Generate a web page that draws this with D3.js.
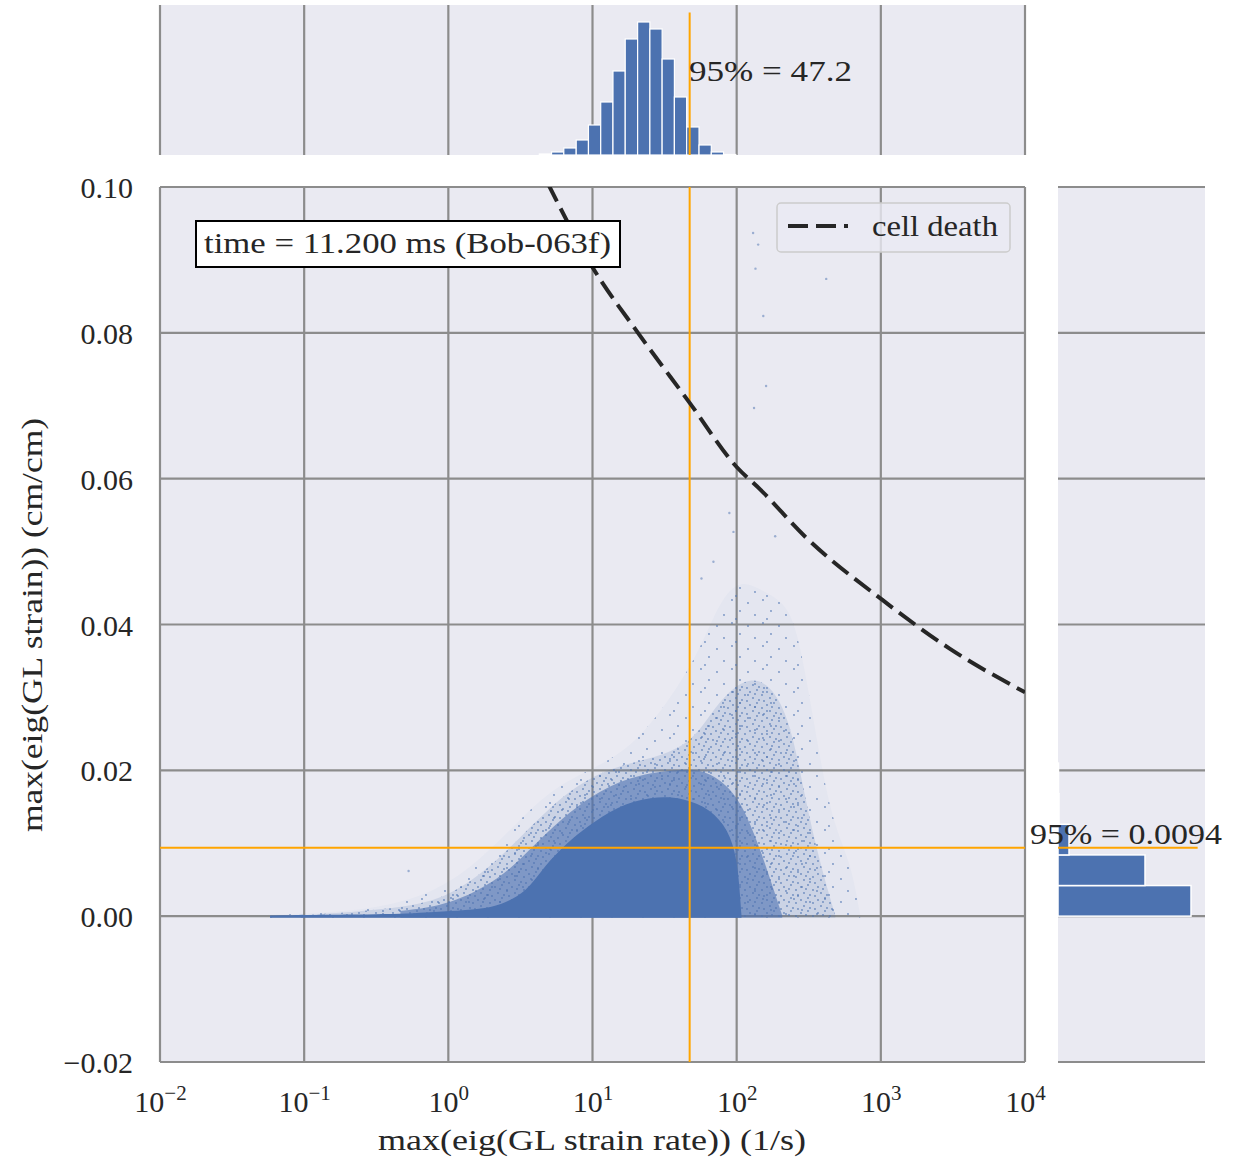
<!DOCTYPE html>
<html>
<head>
<meta charset="utf-8">
<script src="https://cdn.jsdelivr.net/npm/d3@7"></script>
<style>
body { margin: 0; background: #fff; }
text { font-family: "Liberation Serif", "Times New Roman", serif; fill: #262626; }
</style>
</head>
<body>
<svg id="chart" width="1235" height="1162"></svg>
<script>
// axis ticks
var rateTicks = [1e-2, 1e-1, 1e0, 1e1, 1e2, 1e3, 1e4];
var rateExponents = ["\u22122", "\u22121", "0", "1", "2", "3", "4"];
var strainTicks = [-0.02, 0.00, 0.02, 0.04, 0.06, 0.08, 0.10];

// 95th percentiles
var rate95 = 47.2;
var strain95 = 0.0094;

// cell death threshold (rate 1/s, strain)
var deathRate = [4.9, 10, 20.5, 47.2, 100, 146, 300, 1020, 3000, 10000];
var deathStrain = [0.1005, 0.089, 0.0801, 0.0704, 0.0616, 0.0585, 0.052, 0.0434, 0.0367, 0.0307];

// scatter cloud, read as density envelopes (upper edge of each density level)
var coreRate = [0.058, 0.21, 0.64, 1.03, 1.67, 2.3, 3.5, 4.6, 6.7, 9.2, 14.9, 25.2, 42.7, 65.6, 87.5, 101, 106, 108];
var coreStrain = [0.0001, 0.0002, 0.0004, 0.0007, 0.001, 0.0015, 0.0033, 0.0068, 0.0101, 0.0123, 0.0151, 0.0164, 0.0163, 0.0147, 0.0119, 0.0078, 0.0023, 0.0001];
var fringeRate = [0.465, 1.03, 2.30, 3.70, 5.98, 11.3, 21.4, 40.6, 55.9, 76.9, 106, 146, 185, 207];
var fringeStrain = [0.0007, 0.0015, 0.0051, 0.0092, 0.0133, 0.0174, 0.0195, 0.0201, 0.0201, 0.0188, 0.016, 0.0092, 0.003, 0.0001];
var plumeRate = [0.094, 0.465, 1.03, 2.30, 5.10, 11.3, 25.2, 47.6, 65.6, 90.3, 124, 171, 235, 299, 380, 483];
var plumeStrain = [0.0001, 0.001, 0.0026, 0.0078, 0.0153, 0.0201, 0.0215, 0.0236, 0.0277, 0.0311, 0.0327, 0.0318, 0.027, 0.016, 0.0071, 0.0001];
var sparseRate = [0.042, 0.21, 0.64, 1.42, 2.7, 5.1, 9.7, 18.3, 34.6, 56, 77, 106, 146, 200, 255, 324, 446, 614, 719];
var sparseStrain = [0.0001, 0.0005, 0.0023, 0.0064, 0.0119, 0.0174, 0.0201, 0.0229, 0.0297, 0.0366, 0.0434, 0.0462, 0.0448, 0.0434, 0.0407, 0.0297, 0.0133, 0.0078, 0.0001];
var cloudFloor = -0.0002;

// isolated points far from the cloud
var outlierRate = [130, 141, 135, 153, 160, 132, 89, 95, 185, 69, 57, 0.53, 418];
var outlierStrain = [0.0937, 0.0921, 0.0888, 0.0823, 0.0727, 0.0697, 0.0553, 0.0527, 0.0521, 0.0486, 0.0463, 0.0062, 0.0874];

// marginal histogram of strain rate (bin edges in log10 of 1/s)
var rateBinEdges = [0.631, 0.716, 0.801, 0.887, 0.972, 1.057, 1.142, 1.227, 1.313, 1.398, 1.483, 1.568, 1.653, 1.739, 1.824, 1.909, 1.994];
var rateCounts = [1, 3, 7, 15, 30, 53, 84, 116, 133, 126, 96, 58, 28, 10, 3, 0.5];

// marginal histogram of strain
var strainBinEdges = [0, 0.0042, 0.0084, 0.0126, 0.0168, 0.021];
var strainCounts = [133, 87, 11, 1, 0.5];

var blue = "#4c72b0";
var bg = "#eaeaf2";
var gridColor = "#8c8c8c";
var orange = "#ffa500";

var svg = d3.select("#chart");

var plot = {left: 160, right: 1025, top: 187, bottom: 1062};
var topBox = {top: 5, bottom: 155};
var sideBox = {left: 1058, right: 1205};

var x = d3.scaleLog().domain([1e-2, 1e4]).range([plot.left, plot.right]);
var y = d3.scaleLinear().domain([-0.02, 0.10]).range([plot.bottom, plot.top]);
var yTop = d3.scaleLinear()
    .domain([0, d3.max(rateCounts) * 150 / 133])
    .range([topBox.bottom, topBox.top]);
var xSide = d3.scaleLinear()
    .domain([0, d3.max(strainCounts) * 147 / 133])
    .range([sideBox.left, sideBox.right]);

var defs = svg.append("defs");
defs.append("clipPath").attr("id", "plotClip")
    .append("rect")
    .attr("x", plot.left).attr("y", plot.top)
    .attr("width", plot.right - plot.left).attr("height", plot.bottom - plot.top);

// speckle textures so the thin parts of the cloud look like scattered dots
function speckle(id, w, h, dots, r) {
    var p = defs.append("pattern").attr("id", id)
        .attr("patternUnits", "userSpaceOnUse")
        .attr("width", w).attr("height", h);
    dots.forEach(function (d) {
        p.append("circle").attr("cx", d[0]).attr("cy", d[1]).attr("r", r)
            .attr("fill", blue).attr("fill-opacity", 0.75);
    });
}
speckle("speckDense", 17, 13, [[2, 3], [9, 1], [14, 6], [5, 9], [11, 11], [16, 12], [7, 5]], 0.9);
speckle("speckSparse", 31, 23, [[4, 5], [19, 2], [27, 13], [11, 17], [23, 21]], 0.9);

// panel backgrounds
svg.append("rect").attr("x", plot.left).attr("y", plot.top)
    .attr("width", plot.right - plot.left).attr("height", plot.bottom - plot.top).attr("fill", bg);
svg.append("rect").attr("x", plot.left).attr("y", topBox.top)
    .attr("width", plot.right - plot.left).attr("height", topBox.bottom - topBox.top).attr("fill", bg);
svg.append("rect").attr("x", sideBox.left).attr("y", plot.top)
    .attr("width", sideBox.right - sideBox.left).attr("height", plot.bottom - plot.top).attr("fill", bg);

// grid lines
var grid = svg.append("g").attr("stroke", gridColor).attr("stroke-width", 2.2);
grid.selectAll(".vmain").data(rateTicks).enter().append("line")
    .attr("x1", function (d) { return x(d); }).attr("x2", function (d) { return x(d); })
    .attr("y1", plot.top).attr("y2", plot.bottom);
grid.selectAll(".vtop").data(rateTicks).enter().append("line")
    .attr("x1", function (d) { return x(d); }).attr("x2", function (d) { return x(d); })
    .attr("y1", topBox.top).attr("y2", topBox.bottom);
grid.selectAll(".hmain").data(strainTicks).enter().append("line")
    .attr("x1", plot.left).attr("x2", plot.right)
    .attr("y1", function (d) { return y(d); }).attr("y2", function (d) { return y(d); });
grid.selectAll(".hside").data(strainTicks).enter().append("line")
    .attr("x1", sideBox.left).attr("x2", sideBox.right)
    .attr("y1", function (d) { return y(d); }).attr("y2", function (d) { return y(d); });

// scatter cloud as density layers
var cloud = svg.append("g").attr("clip-path", "url(#plotClip)");
function cloudLayer(rates, strains, opacity, texture) {
    var pts = rates.map(function (r, i) { return [r, strains[i]]; });
    var area = d3.area()
        .x(function (d) { return x(d[0]); })
        .y0(y(cloudFloor))
        .y1(function (d) { return y(d[1]); })
        .curve(d3.curveBasis);
    cloud.append("path").datum(pts)
        .attr("d", area)
        .attr("fill", blue)
        .attr("fill-opacity", opacity);
    if (texture) {
        cloud.append("path").datum(pts)
            .attr("d", area)
            .attr("fill", "url(#" + texture + ")");
    }
}
cloudLayer(sparseRate, sparseStrain, 0.03, "speckSparse");
cloudLayer(plumeRate, plumeStrain, 0.16, "speckDense");
cloudLayer(fringeRate, fringeStrain, 0.6);
cloudLayer(coreRate, coreStrain, 1);

cloud.selectAll(".outlier").data(outlierRate).enter().append("circle")
    .attr("cx", function (d) { return x(d); })
    .attr("cy", function (d, i) { return y(outlierStrain[i]); })
    .attr("r", 1.2)
    .attr("fill", blue)
    .attr("fill-opacity", 0.5);

// percentile lines
svg.append("line").attr("stroke", orange).attr("stroke-width", 2)
    .attr("x1", x(rate95)).attr("x2", x(rate95)).attr("y1", plot.top).attr("y2", plot.bottom);
svg.append("line").attr("stroke", orange).attr("stroke-width", 2)
    .attr("x1", plot.left).attr("x2", plot.right).attr("y1", y(strain95)).attr("y2", y(strain95));

// cell death curve
var deathLine = d3.line()
    .x(function (d, i) { return x(d); })
    .y(function (d, i) { return y(deathStrain[i]); })
    .curve(d3.curveMonotoneX);
svg.append("path").datum(deathRate)
    .attr("clip-path", "url(#plotClip)")
    .attr("d", deathLine)
    .attr("fill", "none")
    .attr("stroke", "#262626")
    .attr("stroke-width", 4)
    .attr("stroke-dasharray", "20,8");

// top marginal histogram
svg.append("g").selectAll("rect").data(rateCounts).enter().append("rect")
    .attr("x", function (d, i) { return x(Math.pow(10, rateBinEdges[i])); })
    .attr("width", function (d, i) { return x(Math.pow(10, rateBinEdges[i + 1])) - x(Math.pow(10, rateBinEdges[i])); })
    .attr("y", function (d) { return yTop(d); })
    .attr("height", function (d) { return yTop(0) - yTop(d); })
    .attr("fill", blue)
    .attr("stroke", "#fff")
    .attr("stroke-width", 1.2);
svg.append("line").attr("stroke", orange).attr("stroke-width", 2)
    .attr("x1", x(rate95)).attr("x2", x(rate95))
    .attr("y1", topBox.bottom - 0.95 * (topBox.bottom - topBox.top)).attr("y2", topBox.bottom);

// side marginal histogram
svg.append("g").selectAll("rect").data(strainCounts).enter().append("rect")
    .attr("x", sideBox.left)
    .attr("width", function (d) { return xSide(d) - sideBox.left; })
    .attr("y", function (d, i) { return y(strainBinEdges[i + 1]); })
    .attr("height", function (d, i) { return y(strainBinEdges[i]) - y(strainBinEdges[i + 1]); })
    .attr("fill", blue)
    .attr("stroke", "#fff")
    .attr("stroke-width", 1.5);
svg.append("line").attr("stroke", orange).attr("stroke-width", 2)
    .attr("x1", sideBox.left).attr("x2", sideBox.left + 0.95 * (sideBox.right - sideBox.left))
    .attr("y1", y(strain95)).attr("y2", y(strain95));

// percentile labels
function fitText(sel, len) {
    sel.attr("textLength", len).attr("lengthAdjust", "spacingAndGlyphs");
}
fitText(svg.append("text").attr("x", 689).attr("y", 81).attr("font-size", 30)
    .text("95% = " + rate95), 163);
fitText(svg.append("text").attr("x", 1030).attr("y", 844).attr("font-size", 30)
    .text("95% = " + strain95), 192);

// time annotation box
svg.append("rect").attr("x", 196).attr("y", 221).attr("width", 424).attr("height", 46)
    .attr("fill", "#fff").attr("stroke", "#000").attr("stroke-width", 2);
fitText(svg.append("text").attr("x", 204).attr("y", 253).attr("font-size", 30)
    .text("time = 11.200 ms (Bob-063f)"), 407);

// legend
var legend = svg.append("g");
legend.append("rect").attr("x", 777).attr("y", 203).attr("width", 233).attr("height", 49)
    .attr("rx", 4).attr("fill", bg).attr("fill-opacity", 0.8)
    .attr("stroke", "#cccccc").attr("stroke-width", 1.5);
legend.append("line").attr("x1", 788).attr("x2", 848).attr("y1", 226).attr("y2", 226)
    .attr("stroke", "#262626").attr("stroke-width", 4).attr("stroke-dasharray", "20,8");
fitText(legend.append("text").attr("x", 872).attr("y", 236).attr("font-size", 30)
    .text("cell death"), 126);

// x axis
var xAxis = d3.axisBottom(x).tickValues(rateTicks).tickSize(0).tickPadding(0);
var gx = svg.append("g").attr("transform", "translate(0," + 1112 + ")").call(xAxis);
gx.select(".domain").remove();
gx.selectAll(".tick text").each(function (d, i) {
    var t = d3.select(this).text(null)
        .attr("y", 0).attr("dy", 0)
        .attr("font-size", 30)
        .attr("font-family", "Liberation Serif")
        .attr("fill", "#262626");
    t.append("tspan").text("10");
    t.append("tspan").attr("dy", -12).attr("font-size", 21).text(rateExponents[i]);
});

// y axis
var yAxis = d3.axisLeft(y).tickValues(strainTicks).tickSize(0).tickPadding(0).tickFormat(d3.format(".2f"));
var gy = svg.append("g").attr("transform", "translate(" + 133 + ",0)").call(yAxis);
gy.select(".domain").remove();
gy.selectAll(".tick text")
    .attr("dy", "0.35em")
    .attr("font-size", 30)
    .attr("font-family", "Liberation Serif")
    .attr("fill", "#262626");

// axis titles
fitText(svg.append("text").attr("x", 592).attr("y", 1150).attr("font-size", 30)
    .attr("text-anchor", "middle")
    .text("max(eig(GL strain rate)) (1/s)"), 428);
fitText(svg.append("text").attr("transform", "translate(42,625) rotate(-90)")
    .attr("font-size", 30).attr("text-anchor", "middle")
    .text("max(eig(GL strain)) (cm/cm)"), 414);
</script>
</body>
</html>
